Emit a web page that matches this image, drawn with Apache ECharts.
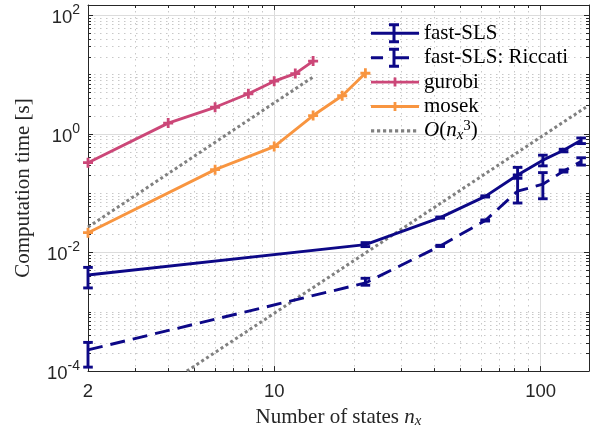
<!DOCTYPE html>
<html><head><meta charset="utf-8">
<script src="https://cdn.jsdelivr.net/npm/echarts@6/dist/echarts.min.js"></script>
<style>html,body{margin:0;padding:0;background:#fff}#c{width:592px;height:434px}</style>
</head><body><div id="c"></div>
<script>
// ---- data ----
const fastN  = [2, 22, 42, 62, 82, 102, 122, 142];
const fastT  = [0.00418, 0.0136, 0.0389, 0.0886, 0.2034, 0.362, 0.532, 0.782];
const fastLo = [0.00253, 0.0126, 0.0380, 0.0865, 0.179, 0.290, 0.500, 0.689];
const fastHi = [0.00562, 0.0147, 0.0398, 0.0905, 0.2735, 0.439, 0.553, 0.857];
const ricN   = [2, 22, 42, 62, 82, 102, 122, 142];
const ricT   = [0.000228, 0.00307, 0.01294, 0.0347, 0.1086, 0.1422, 0.237, 0.3445];
const ricLo  = [0.0001167, 0.00281, 0.01265, 0.0340, 0.0685, 0.0808, 0.228, 0.299];
const ricHi  = [0.000305, 0.00368, 0.01325, 0.0355, 0.2034, 0.223, 0.247, 0.397];
const gurobiN = [2, 4, 6, 8, 10, 12, 14];
const gurobiT = [0.328, 1.527, 2.825, 4.77, 7.77, 10.45, 16.98];
const mosekN  = [2, 6, 10, 14, 18, 22];
const mosekT  = [0.0216, 0.2503, 0.6135, 2.046, 4.415, 10.58];
const cubicAN = [2, 14];
const cubicAT = [0.0269, 9.17];
const cubicBN = [4.7, 148];
const cubicBT = [0.0001, 2.83];
const xMajor = [2, 10, 100];
const xMinor = [3, 4, 5, 6, 7, 8, 9, 20, 30, 40, 50, 60, 70, 80, 90];
const yMajor = [1e-4, 1e-2, 1, 100];
const yMinor = [2e-4,3e-4,4e-4,5e-4,6e-4,7e-4,8e-4,9e-4,
  1e-3,2e-3,3e-3,4e-3,5e-3,6e-3,7e-3,8e-3,9e-3,
  2e-2,3e-2,4e-2,5e-2,6e-2,7e-2,8e-2,9e-2,
  0.1,0.2,0.3,0.4,0.5,0.6,0.7,0.8,0.9,
  2,3,4,5,6,7,8,9,10,20,30,40,50,60,70,80,90];
const names = ['fast-SLS', 'fast-SLS: Riccati', 'gurobi', 'mosek', 'O(n_x^3)'];

// ---- styling ----
const NAVY = '#0d0887', PINK = '#cc4778', ORANGE = '#f89540', GRAY = '#808080';
const AX = '#262626';
const MINOR = '#c8c8c8';
const serif = 'Liberation Serif', sans = 'Liberation Sans';
const LW = 2.9;
const zip = (a, b) => a.map((v, i) => [v, b[i]]);
const plus = 'path://M3.6,0h2.8v3.6h3.6v2.8h-3.6v3.6h-2.8v-3.6h-3.6v-2.8h3.6z';
const corners = ' M0,0h0.01v0.01h-0.01z M47.99,19.99h0.01v0.01h-0.01z';
const iconFast = 'path://M0,8.5h48v3h-48z M21.5,0h3v20h-3z M18,0h10v3h-10z M18,17h10v3h-10z' + corners;
const iconRic = 'path://M0,8.5h12v3h-12z M23,8.5h15v3h-15z M21.5,0h3v20h-3z M18,0h10v3h-10z M18,17h10v3h-10z' + corners;
const iconPlus = 'path://M0,8.6h48v2.8h-48z M22.6,5.5h2.8v9h-2.8z' + corners;
let dots = '';
for (let i = 0; i < 8; i++) dots += ' M' + (i * 6) + ',8.4h3.2v3.2h-3.2z';
const iconDot = 'path://' + dots + corners;

function errSeries(name, n, lo, hi, color) {
  return {
    name: name, type: 'custom', xAxisIndex: 0, yAxisIndex: 0, z: 4, silent: true,
    data: n.map((x, i) => [x, lo[i], hi[i]]),
    encode: { x: 0, y: [1, 2] },
    renderItem: function (params, api) {
      const x = api.value(0);
      const a = api.coord([x, api.value(2)]);
      const b = api.coord([x, api.value(1)]);
      const w = 4.8;
      const st = { stroke: color, lineWidth: LW, fill: null };
      return { type: 'group', children: [
        { type: 'line', shape: { x1: a[0], y1: a[1], x2: b[0], y2: b[1] }, style: st },
        { type: 'line', shape: { x1: a[0] - w, y1: a[1], x2: a[0] + w, y2: a[1] }, style: st },
        { type: 'line', shape: { x1: b[0] - w, y1: b[1], x2: b[0] + w, y2: b[1] }, style: st }
      ] };
    }
  };
}

const xBase = { type: 'log', logBase: 10, min: 2, max: 152, gridIndex: 0 };
const yBase = { type: 'log', logBase: 10, min: 1e-4, max: 150, gridIndex: 0 };
function frameAxis(base, pos, major, minor) {
  return [
    Object.assign({}, base, { position: pos, axisLine: { show: true, onZero: false, lineStyle: { color: AX, width: 1 } },
      axisTick: { show: true, inside: true, length: 5, customValues: major, lineStyle: { color: AX } },
      axisLabel: { show: false }, splitLine: { show: false } }),
    Object.assign({}, base, { position: pos, axisLine: { show: false },
      axisTick: { show: true, inside: true, length: 3, customValues: minor, lineStyle: { color: AX } },
      axisLabel: { show: false }, splitLine: { show: false } })
  ];
}

const option = {
  animation: false,
  backgroundColor: '#fff',
  grid: { left: 88, right: 3, top: 5, bottom: 59, containLabel: false },
  xAxis: [
    Object.assign({}, xBase, {
      position: 'bottom',
      axisLine: { show: true, onZero: false, lineStyle: { color: AX, width: 1 } },
      axisTick: { show: true, inside: true, length: 5, customValues: xMajor, lineStyle: { color: AX } },
      axisLabel: { show: true, customValues: xMajor, margin: 12, fontFamily: sans, fontSize: 18.5, lineHeight: 18, color: AX,
        formatter: v => String(Math.round(v)) },
      splitLine: { show: true, lineStyle: { color: '#dcdcdc', width: 1 } },
      name: '{a|Number of states }{n|n}{s|x}{h|\u200b}',
      nameLocation: 'middle', nameGap: 32,
      nameTextStyle: { fontFamily: serif, fontSize: 21, color: AX,
        rich: {
          a: { fontFamily: serif, fontSize: 21, color: AX, lineHeight: 24, verticalAlign: 'middle' },
          n: { fontFamily: serif, fontStyle: 'italic', fontSize: 21, color: AX, lineHeight: 24, verticalAlign: 'middle' },
          s: { fontFamily: serif, fontStyle: 'italic', fontSize: 15, color: AX, lineHeight: 11, verticalAlign: 'bottom' },
          h: { fontSize: 10, lineHeight: 24 }
        } }
    }),
    Object.assign({}, xBase, {
      position: 'bottom', axisLine: { show: false },
      axisTick: { show: true, inside: true, length: 3, customValues: xMinor, lineStyle: { color: AX } },
      axisLabel: { show: false },
      splitLine: { show: true, lineStyle: { color: MINOR, width: 1, type: [1.5, 4.5] } }
    })
  ].concat(frameAxis(xBase, 'top', xMajor, xMinor)),
  yAxis: [
    Object.assign({}, yBase, {
      position: 'left',
      axisLine: { show: true, onZero: false, lineStyle: { color: AX, width: 1 } },
      axisTick: { show: true, inside: true, length: 5, customValues: yMajor, lineStyle: { color: AX } },
      axisLabel: { show: true, customValues: yMajor, margin: 8, color: AX, fontFamily: sans, fontSize: 18.5,
        formatter: v => '{b|10}{s|' + Math.round(Math.log10(v)) + '}{h|\u200b}',
        rich: {
          b: { fontFamily: sans, fontSize: 18.5, color: AX, lineHeight: 14.6, verticalAlign: 'bottom' },
          s: { fontFamily: sans, fontSize: 14, color: AX, lineHeight: 16.8, verticalAlign: 'top' },
          h: { fontSize: 10, lineHeight: 24 }
        } },
      splitLine: { show: true, lineStyle: { color: '#dcdcdc', width: 1 } },
      name: 'Computation time [s]', nameLocation: 'middle', nameGap: 53, nameRotate: 90,
      nameTextStyle: { fontFamily: serif, fontSize: 21, color: AX, lineHeight: 24 }
    }),
    Object.assign({}, yBase, {
      position: 'left', axisLine: { show: false },
      axisTick: { show: true, inside: true, length: 3, customValues: yMinor, lineStyle: { color: AX } },
      axisLabel: { show: false },
      splitLine: { show: true, lineStyle: { color: MINOR, width: 1, type: [1.5, 4.5] } }
    })
  ].concat(frameAxis(yBase, 'right', yMajor, yMinor)),
  legend: {
    orient: 'vertical', left: 371, top: 21.3, padding: 0, itemGap: 0.4,
    itemWidth: 48, itemHeight: 20, selectedMode: false,
    itemStyle: { borderWidth: 0 },
    data: [
      { name: names[0], icon: iconFast },
      { name: names[1], icon: iconRic },
      { name: names[2], icon: iconPlus },
      { name: names[3], icon: iconPlus },
      { name: names[4], icon: iconDot }
    ],
    formatter: function (nm) {
      if (nm === names[4]) return '{o|O}{r|(}{n|n}{x|x}{p|3}{r|)}';
      return nm;
    },
    textStyle: { fontFamily: serif, fontSize: 21, lineHeight: 24, color: '#000',
      rich: {
        o: { fontFamily: serif, fontStyle: 'italic', fontSize: 21, lineHeight: 24, color: '#000' },
        r: { fontFamily: serif, fontSize: 21, lineHeight: 24, color: '#000' },
        n: { fontFamily: serif, fontStyle: 'italic', fontSize: 21, lineHeight: 24, color: '#000' },
        x: { fontFamily: serif, fontStyle: 'italic', fontSize: 15, lineHeight: 11, verticalAlign: 'bottom', color: '#000' },
        p: { fontFamily: serif, fontSize: 15, lineHeight: 11, verticalAlign: 'top', color: '#000' }
      } }
  },
  series: [
    { name: names[4], type: 'line', data: zip(cubicAN, cubicAT), symbol: 'none', z: 2,
      itemStyle: { color: GRAY }, lineStyle: { color: GRAY, width: 3, type: [3, 2.8], cap: 'butt' } },
    { name: names[4], type: 'line', data: zip(cubicBN, cubicBT), symbol: 'none', z: 2,
      itemStyle: { color: GRAY }, lineStyle: { color: GRAY, width: 3, type: [3, 2.8], cap: 'butt' } },
    { name: names[2], type: 'line', data: zip(gurobiN, gurobiT), symbol: plus, symbolSize: 10, z: 3,
      itemStyle: { color: PINK, borderWidth: 0 }, lineStyle: { color: PINK, width: LW } },
    { name: names[3], type: 'line', data: zip(mosekN, mosekT), symbol: plus, symbolSize: 10, z: 3,
      itemStyle: { color: ORANGE, borderWidth: 0 }, lineStyle: { color: ORANGE, width: LW } },
    { name: names[1], type: 'line', data: zip(ricN, ricT), symbol: 'none', z: 3,
      itemStyle: { color: NAVY }, lineStyle: { color: NAVY, width: LW, type: [15, 8] } },
    { name: names[0], type: 'line', data: zip(fastN, fastT), symbol: 'none', z: 3,
      itemStyle: { color: NAVY }, lineStyle: { color: NAVY, width: LW } },
    errSeries('errFast', fastN, fastLo, fastHi, NAVY),
    errSeries('errRic', ricN, ricLo, ricHi, NAVY)
  ]
};
const chart = echarts.init(document.getElementById('c'), null, { renderer: 'canvas', width: 592, height: 434 });
chart.setOption(option);
</script>
</body></html>
